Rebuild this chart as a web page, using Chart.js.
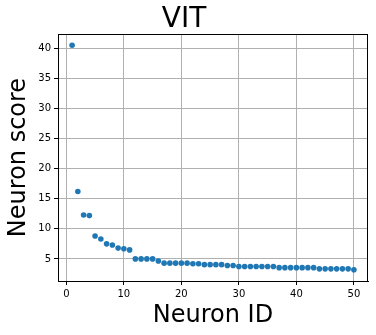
<!DOCTYPE html>
<html>
<head>
<meta charset="utf-8">
<script src="https://cdn.jsdelivr.net/npm/chart.js@4/dist/chart.umd.min.js"></script>
<style>
  html, body { margin: 0; padding: 0; background: #fff; }
  #wrap { width: 376px; height: 335px; }
</style>
</head>
<body>
<div id="wrap"><canvas id="myChart" width="376" height="335"></canvas></div>
<script>
// neuron ids and their scores
const neuronIds = [
  1, 2, 3, 4, 5, 6, 7, 8, 9, 10,
  11, 12, 13, 14, 15, 16, 17, 18, 19, 20,
  21, 22, 23, 24, 25, 26, 27, 28, 29, 30,
  31, 32, 33, 34, 35, 36, 37, 38, 39, 40,
  41, 42, 43, 44, 45, 46, 47, 48, 49, 50
];
const neuronScores = [
  40.5, 16.2, 12.3, 12.2, 8.8, 8.3, 7.5, 7.3, 6.8, 6.7,
  6.5, 5.0, 5.0, 5.0, 5.0, 4.65, 4.3, 4.3, 4.3, 4.3,
  4.3, 4.2, 4.2, 4.05, 4.05, 4.05, 4.05, 3.9, 3.9, 3.75,
  3.75, 3.75, 3.75, 3.75, 3.75, 3.75, 3.55, 3.55, 3.55, 3.55,
  3.55, 3.55, 3.55, 3.35, 3.35, 3.35, 3.35, 3.35, 3.35, 3.2
];
const xTicks = [0, 10, 20, 30, 40, 50];
const yTicks = [5, 10, 15, 20, 25, 30, 35, 40];

const font = "'DejaVu Sans', sans-serif";

// matplotlib style box: top and right spines
const frame = {
  id: 'frame',
  afterDraw(chart) {
    const { ctx, chartArea: a } = chart;
    ctx.save();
    ctx.strokeStyle = '#000';
    ctx.lineWidth = 1;
    ctx.strokeRect(Math.round(a.left) + 0.5, Math.round(a.top) + 0.5,
      Math.round(a.right - a.left) - 1, Math.round(a.bottom - a.top));
    ctx.restore();
  }
};

const ctx = document.getElementById('myChart').getContext('2d');
new Chart(ctx, {
  type: 'scatter',
  data: {
    datasets: [{
      data: neuronIds.map((id, i) => ({ x: id, y: neuronScores[i] })),
      backgroundColor: '#1f77b4',
      borderWidth: 0,
      pointRadius: 2.8,
      pointHoverRadius: 2.8,
    }],
  },
  options: {
    responsive: false,
    animation: false,
    layout: { padding: { left: 0, right: 8, top: 0, bottom: 0 } },
    plugins: {
      legend: { display: false },
      tooltip: { enabled: false },
      title: {
        display: true,
        text: 'VIT',
        color: '#000',
        font: { family: font, size: 28, weight: 'normal', lineHeight: 1.0 },
        padding: { top: 6, bottom: 0 },
      },
    },
    scales: {
      x: {
        type: 'linear',
        min: -1.45,
        max: 52.45,
        afterBuildTicks: s => { s.ticks = xTicks.map(v => ({ value: v })); },
        afterFit: s => { s.height = 54; },
        grid: { color: '#b0b0b0', tickColor: '#000', tickLength: 4, lineWidth: 1 },
        border: { color: '#000', width: 1 },
        ticks: { color: '#000', font: { family: font, size: 10 }, padding: 3, maxRotation: 0 },
        title: {
          display: true,
          text: 'Neuron ID',
          color: '#000',
          font: { family: font, size: 24 },
          padding: { top: 0, bottom: 5 },
        },
      },
      y: {
        type: 'linear',
        min: 1.33,
        max: 42.37,
        afterBuildTicks: s => { s.ticks = yTicks.map(v => ({ value: v })); },
        afterFit: s => { s.width = 58; },
        grid: { color: '#b0b0b0', tickColor: '#000', tickLength: 4, lineWidth: 1 },
        border: { color: '#000', width: 1 },
        ticks: { color: '#000', font: { family: font, size: 10 }, padding: 3 },
        title: {
          display: true,
          text: 'Neuron score',
          color: '#000',
          font: { family: font, size: 24 },
          padding: { top: 4, bottom: 0 },
        },
      },
    },
  },
  plugins: [frame],
});
</script>
</body>
</html>
